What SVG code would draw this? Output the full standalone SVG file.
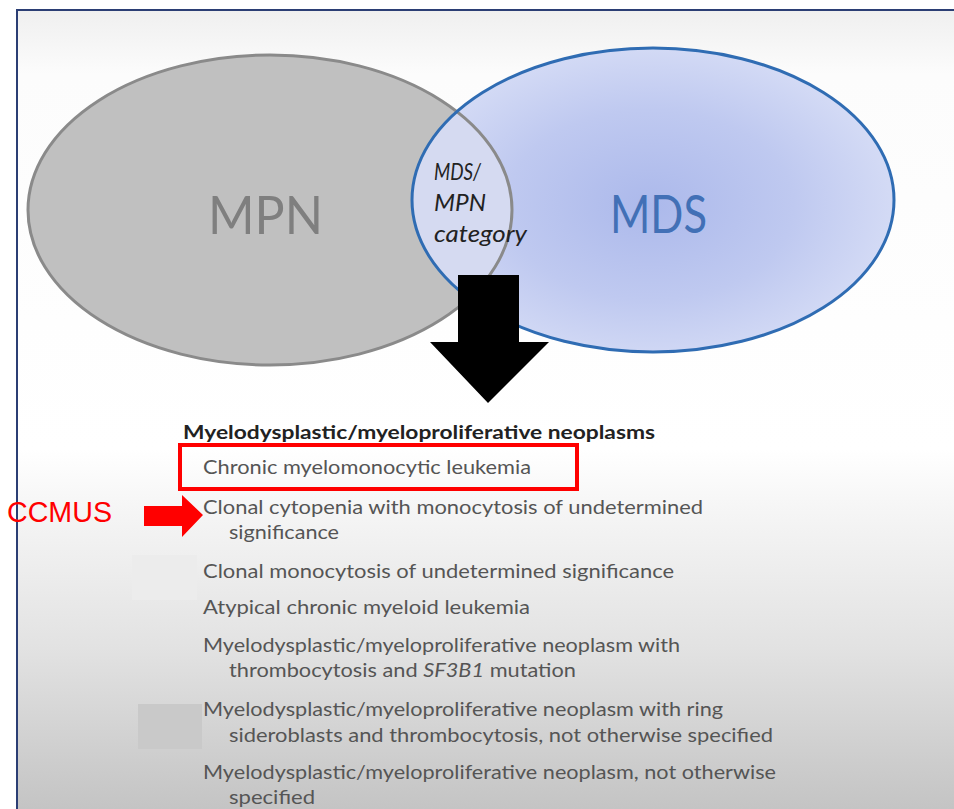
<svg xmlns="http://www.w3.org/2000/svg" width="954" height="809" viewBox="0 0 954 809">
  <defs>
    <linearGradient id="bg" x1="0" y1="10" x2="0" y2="809" gradientUnits="userSpaceOnUse">
      <stop offset="0" stop-color="#efefef"/>
      <stop offset="0.08" stop-color="#fcfcfc"/>
      <stop offset="0.55" stop-color="#ffffff"/>
      <stop offset="0.62" stop-color="#f6f6f6"/>
      <stop offset="0.8" stop-color="#e2e2e2"/>
      <stop offset="1" stop-color="#c4c4c4"/>
    </linearGradient>
    <radialGradient id="mdsFill" cx="650" cy="205" r="240" gradientUnits="userSpaceOnUse" gradientTransform="translate(650 205) scale(1 0.66) translate(-650 -205)">
      <stop offset="0" stop-color="#acb9eb"/>
      <stop offset="0.6" stop-color="#bfc9f0"/>
      <stop offset="1" stop-color="#d3daf5"/>
    </radialGradient>
    <clipPath id="mpnClip">
      <ellipse cx="270" cy="210" rx="242" ry="155"/>
    </clipPath>
    <style>
      .item { font-family: Lato, "Open Sans", "Liberation Sans", sans-serif; font-size: 19px; fill: #555555; }
      .venn { font-family: Lato, "Liberation Sans", sans-serif; font-size: 52px; }
    </style>
  </defs>

  <rect x="0" y="0" width="954" height="809" fill="#ffffff"/>
  <rect x="17" y="10" width="937" height="799" fill="url(#bg)"/>
  <path d="M17 809 V10 H954" fill="none" stroke="#2b3e74" stroke-width="2"/>

  <!-- faint artifact patches -->
  <rect x="132" y="555" width="65" height="45" fill="#ececec"/>
  <rect x="138" y="704" width="64" height="45" fill="#c9c9c9"/>

  <g id="mpn">
    <ellipse cx="270" cy="210" rx="242" ry="155" fill="#c0c0c0"/>
  </g>
  <g id="mds">
    <ellipse cx="653" cy="200" rx="241" ry="152" fill="url(#mdsFill)"/>
  </g>
  <g id="overlap">
    <ellipse cx="653" cy="200" rx="241" ry="152" fill="#d5daf1" clip-path="url(#mpnClip)"/>
  </g>
  <g id="outlines">
    <ellipse cx="270" cy="210" rx="242" ry="155" fill="none" stroke="#8a8a8a" stroke-width="3"/>
    <ellipse cx="653" cy="200" rx="241" ry="152" fill="none" stroke="#2f6cb3" stroke-width="3"/>
  </g>
  <g id="labels">
    <text class="venn" x="208" y="234" fill="#7f7f7f" textLength="115" lengthAdjust="spacingAndGlyphs">MPN</text>
    <text class="venn" x="610" y="233" fill="#4270b6" textLength="97" lengthAdjust="spacingAndGlyphs">MDS</text>
    <g font-family="Lato, 'Liberation Sans', sans-serif" font-style="italic" font-size="24" fill="#222222">
      <text x="434" y="180" textLength="47" lengthAdjust="spacingAndGlyphs">MDS/</text>
      <text x="434" y="211" textLength="52" lengthAdjust="spacingAndGlyphs">MPN</text>
      <text x="434" y="242" textLength="93" lengthAdjust="spacingAndGlyphs">category</text>
    </g>
  </g>

  <g id="connectors">
    <polygon points="458,275 519,275 519,342 549,342 488,403 430,342 458,342" fill="#000000"/>
    <polygon points="144,506 182,506 182,495 203,515 182,537 182,526 144,526" fill="#ff0000"/>
  </g>

  <g id="ccmus">
    <text x="7" y="522" font-family="'Liberation Sans', Arial, sans-serif" font-size="29" fill="#ff0000" textLength="105" lengthAdjust="spacingAndGlyphs">CCMUS</text>
  </g>

  <g id="list">
    <text x="183" y="439" font-family="Lato, 'Open Sans', 'Liberation Sans', sans-serif" font-weight="bold" font-size="19" fill="#222222" textLength="472" lengthAdjust="spacingAndGlyphs">Myelodysplastic/myeloproliferative neoplasms</text>
    <rect x="180" y="445" width="397" height="44" fill="none" stroke="#ff0000" stroke-width="4"/>
    <text class="item" x="203" y="474" textLength="328" lengthAdjust="spacingAndGlyphs">Chronic myelomonocytic leukemia</text>
    <text class="item" x="203" y="514" textLength="500" lengthAdjust="spacingAndGlyphs">Clonal cytopenia with monocytosis of undetermined</text>
    <text class="item" x="229" y="539" textLength="110" lengthAdjust="spacingAndGlyphs">significance</text>
    <text class="item" x="203" y="578" textLength="471" lengthAdjust="spacingAndGlyphs">Clonal monocytosis of undetermined significance</text>
    <text class="item" x="203" y="614" textLength="327" lengthAdjust="spacingAndGlyphs">Atypical chronic myeloid leukemia</text>
    <text class="item" x="203" y="652" textLength="477" lengthAdjust="spacingAndGlyphs">Myelodysplastic/myeloproliferative neoplasm with</text>
    <text class="item" x="229" y="677" textLength="347" lengthAdjust="spacingAndGlyphs">thrombocytosis and <tspan font-style="italic">SF3B1</tspan> mutation</text>
    <text class="item" x="203" y="716" textLength="520" lengthAdjust="spacingAndGlyphs">Myelodysplastic/myeloproliferative neoplasm with ring</text>
    <text class="item" x="229" y="742" textLength="544" lengthAdjust="spacingAndGlyphs">sideroblasts and thrombocytosis, not otherwise specified</text>
    <text class="item" x="203" y="779" textLength="573" lengthAdjust="spacingAndGlyphs">Myelodysplastic/myeloproliferative neoplasm, not otherwise</text>
    <text class="item" x="229" y="804" textLength="86" lengthAdjust="spacingAndGlyphs">specified</text>
  </g>
</svg>
